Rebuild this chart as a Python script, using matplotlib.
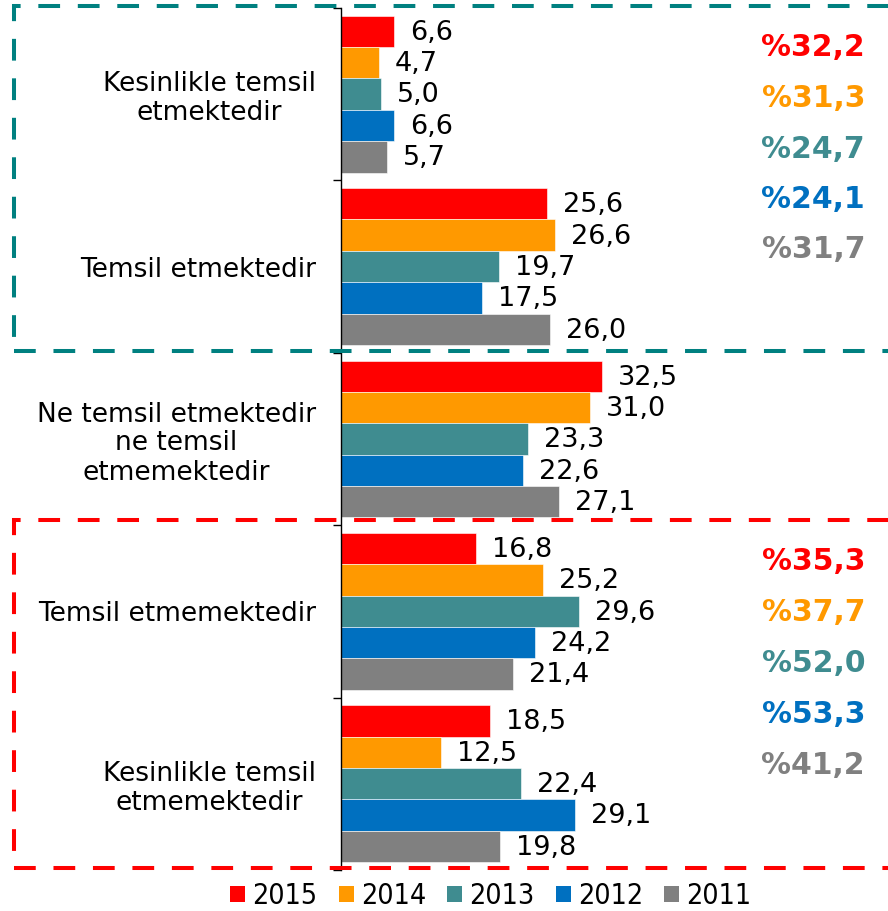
import matplotlib
matplotlib.use("Agg")
import matplotlib.pyplot as plt
from matplotlib.patches import Rectangle, Patch
from matplotlib.font_manager import FontProperties, findfont
import numpy as np

plt.rcParams['font.family'] = ['DejaVu Sans']

categories = ["Kesinlikle temsil\netmektedir",
              "Temsil etmektedir",
              "Ne temsil etmektedir\nne temsil\netmemektedir",
              "Temsil etmemektedir",
              "Kesinlikle temsil\netmemektedir"]
years = ["2015", "2014", "2013", "2012", "2011"]
colors = ["#FF0000", "#FF9900", "#3F8C90", "#0070C0", "#808080"]

# values[year][category]
v2015 = [6.6, 25.6, 32.5, 16.8, 18.5]
v2014 = [4.7, 26.6, 31.0, 25.2, 12.5]
v2013 = [5.0, 19.7, 23.3, 29.6, 22.4]
v2012 = [6.6, 17.5, 22.6, 24.2, 29.1]
v2011 = [5.7, 26.0, 27.1, 21.4, 19.8]
values = [v2015, v2014, v2013, v2012, v2011]

pos_totals = ["%32,2", "%31,3", "%24,7", "%24,1", "%31,7"]
neg_totals = ["%35,3", "%37,7", "%52,0", "%53,3", "%41,2"]

W, H = 888, 911
fig = plt.figure(figsize=(W / 100, H / 100), dpi=100)
ax = fig.add_axes([341 / W, 1 - 870 / H, (W - 341) / W, 862 / H])

bh = 0.1819
margin = 0.0447
for j, (yr, col, vals) in enumerate(zip(years, colors, values)):
    ys = [g + margin + bh * (j + 0.5) for g in range(len(categories))]
    ax.barh(ys, vals, height=bh, color=col, label=yr, edgecolor='white', linewidth=0.4)
    for y, v in zip(ys, vals):
        ax.annotate(f"{v:.1f}".replace('.', ','), (v, y), xytext=(16 * 0.72, -1),
                    textcoords='offset points', ha='left', va='center',
                    fontsize=19.5, color='black')

ax.set_xlim(0, 68.1)
ax.set_ylim(len(categories), 0)
ax.set_yticks([g + 0.5 for g in range(len(categories))])
ax.set_yticklabels(categories, fontsize=19, ha='right', multialignment='center',
                   linespacing=1.15)
ax.set_yticks(np.arange(0, len(categories) + 1), minor=True)
ax.tick_params(axis='y', which='major', length=0, pad=18)
ax.tick_params(axis='y', which='minor', length=6, width=1, direction='out')
ax.set_xticks([])
for s in ['top', 'right', 'bottom']:
    ax.spines[s].set_visible(False)
ax.spines['left'].set_linewidth(1)

# dashed boxes (figure pixel coordinates)
def box(x0, y0top, x1, y1bottom, color):
    r = Rectangle((x0 / W, 1 - y1bottom / H), (x1 - x0) / W, (y1bottom - y0top) / H,
                  transform=fig.transFigure, fill=False, edgecolor=color,
                  linewidth=2.9, linestyle=(0, (5.4, 4.4)), clip_on=False)
    fig.add_artist(r)

box(13.5, 5.5, 900, 351, "#008080")
box(13.5, 520, 900, 868, "#FF0000")

for i, t in enumerate(pos_totals):
    fig.text(865 / W, 1 - (48 + 50.5 * i) / H, t, ha='right', va='center',
             fontsize=21.5, fontweight='bold', color=colors[i])
for i, t in enumerate(neg_totals):
    fig.text(865 / W, 1 - (562 + 50.8 * i) / H, t, ha='right', va='center',
             fontsize=21.5, fontweight='bold', color=colors[i])

leg_fp = FontProperties(family='DejaVu Sans', stretch='condensed', size=20.5)
handles = [Patch(facecolor=c, edgecolor='none') for c in colors]
fig.legend(handles, years, loc='center', bbox_to_anchor=(491 / W, 1 - 896 / H),
           ncol=5, frameon=False, prop=leg_fp, handlelength=0.53, handleheight=0.53,
           handletextpad=0.25, columnspacing=0.74, borderpad=0, borderaxespad=0)

fig.savefig("out.png", dpi=100)
